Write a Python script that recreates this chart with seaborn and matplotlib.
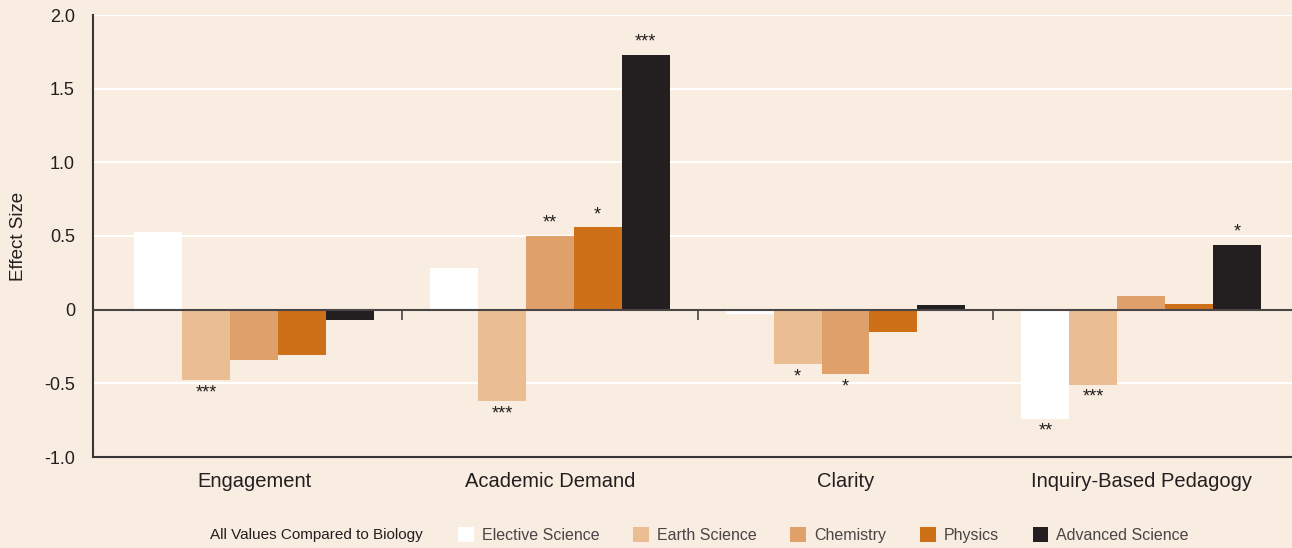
import pandas as pd
import numpy as np
import matplotlib.pyplot as plt
import seaborn as sns

# data
categories = ["Engagement", "Academic Demand", "Clarity", "Inquiry-Based Pedagogy"]
subjects = ["Elective Science", "Earth Science", "Chemistry", "Physics", "Advanced Science"]

elective = [0.53, 0.28, -0.03, -0.74]
earth = [-0.48, -0.62, -0.37, -0.51]
chemistry = [-0.34, 0.50, -0.44, 0.09]
physics = [-0.31, 0.56, -0.15, 0.04]
advanced = [-0.07, 1.73, 0.03, 0.44]

elective_sig = ["", "", "", "**"]
earth_sig = ["***", "***", "*", "***"]
chemistry_sig = ["", "**", "*", ""]
physics_sig = ["", "*", "", ""]
advanced_sig = ["", "***", "", "*"]

colors = ["#FFFFFF", "#EABD93", "#E0A06A", "#CE7017", "#231F20"]
bg = "#F9ECE0"

values = [elective, earth, chemistry, physics, advanced]
sigs = [elective_sig, earth_sig, chemistry_sig, physics_sig, advanced_sig]

rows = []
for s, vals in zip(subjects, values):
    for c, v in zip(categories, vals):
        rows.append({"category": c, "subject": s, "effect": v})
df = pd.DataFrame(rows)

sns.set_style("white")
plt.rcParams['font.family'] = ['Liberation Sans', 'DejaVu Sans']

fig = plt.figure(figsize=(12.92, 5.48), dpi=100, facecolor=bg)
ax = fig.add_axes([93/1292, 1-457/548, (1292-93)/1292, (457-15)/548])
ax.set_facecolor(bg)

sns.barplot(data=df, x="category", y="effect", hue="subject", order=categories,
            hue_order=subjects, palette=colors, width=0.81, saturation=1,
            edgecolor="none", linewidth=0, ax=ax, legend=False, zorder=3)

# significance stars
for cont, lab in zip(ax.containers, sigs):
    ax.bar_label(cont, labels=lab, padding=3, fontsize=13, color="#231F20")

ax.set_ylim(-1.0, 2.0)
ax.set_xlim(-0.545, 3.51)
ax.set_yticks([-1.0, -0.5, 0, 0.5, 1.0, 1.5, 2.0])
ax.set_yticklabels(["-1.0", "-0.5", "0", "0.5", "1.0", "1.5", "2.0"])
for y in [-0.5, 0.5, 1.0, 1.5, 2.0]:
    ax.axhline(y, color="white", lw=1.5, zorder=1)
ax.axhline(0, color="#4a4546", lw=1.5, zorder=4)
ax.vlines([0.5, 1.5, 2.5], -0.07, 0, color="#4a4546", lw=1.2, zorder=4)

for side in ["top", "right"]:
    ax.spines[side].set_visible(False)
for side in ["left", "bottom"]:
    ax.spines[side].set_color("#3a3536")
    ax.spines[side].set_linewidth(1.5)

ax.tick_params(axis="y", length=10, width=1.2, color="#3a3536", labelsize=13,
               labelcolor="#231F20", pad=3)
ax.tick_params(axis="x", length=0, labelsize=14.5, labelcolor="#231F20", pad=11)
ax.set_xlabel("")
ax.set_ylabel("Effect Size", fontsize=13.5, color="#231F20", labelpad=12)

# legend along the bottom
fig.text(210/1292, 1-535/548, "All Values Compared to Biology", fontsize=11,
         color="#231F20", va="center")
handles = [plt.Rectangle((0, 0), 1, 1, fc=c, ec="none") for c in colors]
fig.legend(handles, subjects, loc="center left", bbox_to_anchor=(458/1292, 1-535/548),
           ncol=5, frameon=False, fontsize=11.5, handlelength=1.0, handleheight=1.1,
           columnspacing=2.1, handletextpad=0.5, labelcolor="#4a4546",
           borderaxespad=0, borderpad=0)

fig.savefig("out.png", dpi=100, facecolor=bg)
